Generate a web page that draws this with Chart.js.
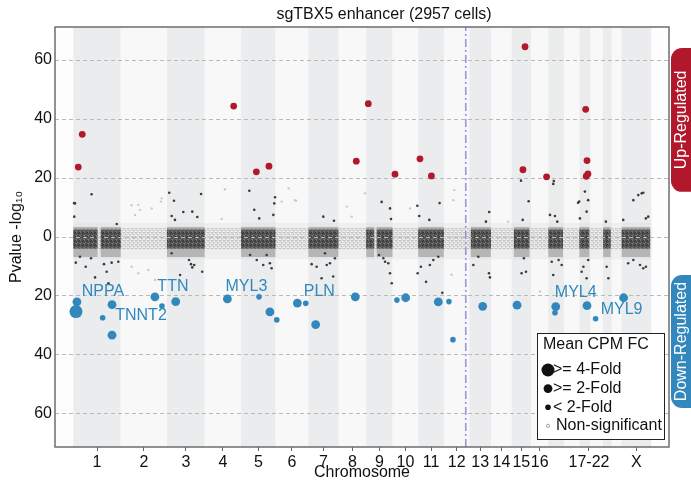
<!DOCTYPE html>
<html><head><meta charset="utf-8">
<script src="https://cdn.jsdelivr.net/npm/chart.js@4.4.1/dist/chart.umd.min.js"></script>
<style>html,body{margin:0;padding:0;background:#fff}#wrap{width:691px;height:481px}</style>
</head><body><div id="wrap"><canvas id="c" width="691" height="481"></canvas></div>
<script>
// ---------- DATA ----------
const chartTitle = 'sgTBX5 enhancer (2957 cells)';
const chromNames = ['1','2','3','4','5','6','7','8','9','10','11','12','13','14','15','16','17','18','19','20','21','22','X'];
const chromLengthsMb = [248.96,242.19,198.30,190.21,181.54,170.81,159.35,145.14,138.39,133.80,135.09,133.28,114.36,107.04,101.99,90.34,83.26,80.37,58.62,64.44,46.71,50.82,156.04];
const xTickLabels = ['1','2','3','4','5','6','7','8','9','10','11','12','13','14','15','16','17-22','X'];
const yTickValues = [-60,-40,-20,0,20,40,60];
const tbx5Chrom = '12';
const tbx5PosInChromMb = 114.35;

// significant up-regulated genes (genome position Mb, -log10 p)
const upPosMb  = [26, 47, 841, 960, 1026, 1484, 1547, 1687, 1818, 1878, 2369, 2358, 2482, 2687, 2694, 2699, 2690];
const upLogP   = [23.7, 34.8, 44.4, 22.1, 24.0, 25.7, 45.2, 21.3, 26.5, 20.7, 64.5, 22.8, 20.4, 43.3, 25.9, 21.4, 20.6];

// significant down-regulated genes
const downPosMb = [14, 19, 154, 203, 203, 428, 465, 537, 808, 974, 1031, 1067, 1175, 1219, 1271, 1479, 1697, 1743, 1914, 1970, 1991, 2147, 2327, 2530, 2526, 2694, 2739, 2886];
const downLogP  = [25.3, 22.0, 27.4, 22.9, 33.3, 20.3, 23.4, 21.9, 21.0, 20.3, 25.4, 28.1, 22.4, 22.5, 29.7, 20.3, 21.4, 20.6, 22.0, 21.9, 34.8, 23.5, 23.1, 23.6, 25.7, 23.3, 27.7, 20.6];
const downFold  = ['>=4','>=2','<2','>=2','>=2','>=2','<2','>=2','>=2','<2','>=2','<2','>=2','<2','>=2','>=2','<2','>=2','>=2','<2','<2','>=2','>=2','>=2','<2','>=2','<2','>=2'];

// labelled genes: name and index of the down-regulated point they belong to
const geneNames = ['NPPA','TNNT2','TTN','MYL3','PLN','MYL4','MYL9'];
const genePoint = [1, 3, 5, 8, 12, 23, 26];

// dense gene clouds (odd chromosomes, dark) as genome ranges in Mb
const denseDarkRangesMb = [[0,127],[144,249],[491,689],[880,1060],[1233,1390],[1536,1578],[1591,1674],[1809,1943],[2085,2190],[2311,2392],[2491,2568],[2654,2706],[2779,2818],[2876,3025]];
const denseDarkCore = [-3.9, 2.5];
const denseDarkHalo = [-6.8, 3.4];
const denseLightCore = [-4.2, 3.0];
const denseLightHalo = [-7.5, 4.8];

// scattered individual genes (Mb, signed -log10 p)
const darkScatterMb = [96,9,5,4,228,65,114,13,161,175,201,236,184,93,35,
  503,670,528,577,516,533,650,624,607,617,624,634,560,676,516,
  923,1058,949,975,1054,1049,927,962,996,1031,1040,1014,
  1367,1311,1302,1363,1250,1276,1329,1346,1372,1320,
  1617,1661,1666,1603,1626,1652,1635,1670,1661,
  1804,1921,1814,1867,1806,1850,1823,1870,1888,1914,1935,
  2181,2164,2098,2124,2180,2185,
  2348,2388,2357,2363,2351,2374,
  2520,2517,2526,2500,2538,2517,2561,2509,2545,
  2683,2700,2692,2657,2653,2647,2692,2675,2666,2700,
  2793,2806,2797,
  2937,2963,2989,2981,3003,3015,2884,2972,2989,3003,2937,2910];
const darkScatterVal = [14.5,11.4,6.9,11.5,4.4,-10.1,-13.7,-8.7,-9.2,-11.8,-8.7,-8.4,-15.7,-7.2,-6.7,
  15.0,14.6,12.3,8.5,7.1,5.8,6.8,8.6,-7.8,-9.2,-10.3,-9.5,-12.9,-11.8,-5.5,
  15.7,13.5,9.2,6.3,11.4,7.5,-6.1,-7.8,-9.5,-8.9,-10.6,-6.1,
  5.5,6.9,-14.0,-13.4,-9.2,-10.1,-9.5,-8.9,-7.2,-5.5,
  11.9,9.7,6.1,-6.1,-7.2,-8.9,-8.4,-15.7,-12.3,
  10.6,11.5,7.1,5.8,-12.3,-15.2,-10.1,-9.5,-7.8,-6.7,-18.9,
  8.5,5.2,-9.5,-6.7,-12.3,-13.7,
  19.1,12.1,5.8,-7.2,-12.3,-11.8,
  19.0,18.0,7.1,7.5,5.2,-12.9,-9.5,-8.4,-7.8,
  15.4,12.5,8.6,6.3,12.0,11.6,-14.0,-10.1,-11.8,-7.8,
  5.2,-14.0,-10.1,
  12.5,14.2,15.0,14.8,6.3,6.9,5.8,-9.5,-10.6,-10.1,-7.8,-8.9];
const lightScatterMb  = [306,350,324,464,460,411,341,306,341,393,428,778,795,1093,1129,1162,1168,1434,1460,1530,1766,1993,1998,1984,2281,2447];
const lightScatterVal = [10.8,9.2,7.5,13.1,12.0,9.7,10.9,-10.1,-12.3,-11.2,-14.6,6.1,16.2,12.0,16.5,12.5,12.3,10.3,6.9,14.8,9.7,12.5,15.9,-12.8,5.2,-18.5];

// legend & side labels
const legendTitle = 'Mean CPM FC';
const legendLabels = ['>= 4-Fold','>= 2-Fold','< 2-Fold','Non-significant'];
const sideLabels = ['Up-Regulated','Down-Regulated'];
const sideRanges = [[64.1,15.3],[-12.9,-58.0]];

// ---------- DERIVED ----------
const chromStarts = [];
chromLengthsMb.reduce((acc,l)=>{chromStarts.push(acc);return acc+l;},0);
const genomeEnd = chromStarts[chromStarts.length-1] + chromLengthsMb[chromLengthsMb.length-1];
const chromCenters = chromStarts.map((s,i)=>s+chromLengthsMb[i]/2);
const groupCenter = chromCenters.slice(16,22).reduce((a,b)=>a+b,0)/6;
const xTickValues = chromCenters.slice(0,16).concat([groupCenter, chromCenters[22]]);
const tbx5Pos = chromStarts[chromNames.indexOf(tbx5Chrom)] + tbx5PosInChromMb;

// ---------- STYLE ----------
const FONT = "'Liberation Sans', Arial, Helvetica, sans-serif";
const RED = '#b2182b', BLUE = '#3288bd';
const foldRadius = {'>=4':6.5,'>=2':4.4,'<2':2.8};
const X_MIN = -96, X_MAX = 3124, Y_MIN = -71.2, Y_MAX = 71.2;
const labelOffsets = [[26,-10],[29,11],[18,-10],[19,-12],[22,-11],[20,-14],[26,-9]];

Chart.defaults.font.family = FONT;
Chart.defaults.color = '#111';

// speckle texture (fixed tile) to mimic a dense cloud of tiny dots
function makeTile(base, shades){
  const t=document.createElement('canvas'); t.width=4; t.height=4;
  const c=t.getContext('2d'); c.fillStyle=base; c.fillRect(0,0,4,4);
  const cells=[[0,0],[2,1],[1,2],[3,3],[3,0],[0,3]];
  cells.forEach((p,i)=>{c.fillStyle=shades[i%shades.length]; c.fillRect(p[0],p[1],1,1);});
  return t;
}

function roundRect(ctx,x,y,w,h,r){
  ctx.beginPath();
  ctx.moveTo(x+r,y); ctx.lineTo(x+w-r,y); ctx.arcTo(x+w,y,x+w,y+r,r);
  ctx.lineTo(x+w,y+h-r); ctx.arcTo(x+w,y+h,x+w-r,y+h,r);
  ctx.lineTo(x+r,y+h); ctx.arcTo(x,y+h,x,y+h-r,r);
  ctx.lineTo(x,y+r); ctx.arcTo(x,y,x+r,y,r); ctx.closePath();
}

const bgPlugin = {
  id:'bg',
  beforeDraw(chart){
    const {ctx, chartArea:a, scales:{x,y}} = chart;
    ctx.save();
    ctx.fillStyle='#fdfdfd'; ctx.fillRect(a.left,a.top,a.width,a.height);
    chromLengthsMb.forEach((len,i)=>{
      const x0=x.getPixelForValue(chromStarts[i]), x1=x.getPixelForValue(chromStarts[i]+len);
      ctx.fillStyle = i%2===0 ? '#ebeced' : '#f8f8f8';
      ctx.fillRect(x0,a.top,x1-x0,a.height);
    });
    const darkPat = ctx.createPattern(makeTile('#4e4e4e',['#6e6e6e','#333333','#777777']),'repeat');
    const lightPat = ctx.createPattern(makeTile('rgba(205,205,205,0.55)',['rgba(190,190,190,0.9)','rgba(255,255,255,0.6)']),'repeat');
    const band=(x0v,x1v,r,col)=>{
      const X0=x.getPixelForValue(x0v), X1=x.getPixelForValue(x1v);
      const Y0=y.getPixelForValue(r[1]), Y1=y.getPixelForValue(r[0]);
      ctx.fillStyle=col; ctx.fillRect(X0,Y0,X1-X0,Y1-Y0);
    };
    band(0,genomeEnd,denseLightHalo,'rgba(210,210,210,0.22)');
    band(0,genomeEnd,denseLightCore,lightPat);
    denseDarkRangesMb.forEach(r=>band(r[0],r[1],denseDarkHalo,'rgba(70,70,70,0.3)'));
    denseDarkRangesMb.forEach(r=>band(r[0],r[1],denseDarkCore,darkPat));
    ctx.restore();
  }
};

const overlayPlugin = {
  id:'overlay',
  afterDatasetsDraw(chart){
    const {ctx, chartArea:a} = chart;
    ctx.save();
    const meta = chart.getDatasetMeta(4);
    ctx.font = '16px '+FONT; ctx.fillStyle = BLUE; ctx.textAlign='center'; ctx.textBaseline='middle';
    geneNames.forEach((g,i)=>{
      const p = meta.data[genePoint[i]];
      ctx.fillText(g, p.x+labelOffsets[i][0], p.y+labelOffsets[i][1]);
    });
    ctx.strokeStyle='#6e6e6e'; ctx.lineWidth=1.5;
    ctx.strokeRect(a.left,a.top,a.width,a.height);
    const w=127,h=106, x0=a.right-5-w, y0=a.bottom-8-h;
    ctx.fillStyle='#fff'; ctx.fillRect(x0,y0,w,h);
    ctx.strokeStyle='#222'; ctx.lineWidth=1; ctx.strokeRect(x0+0.5,y0+0.5,w,h);
    ctx.fillStyle='#111'; ctx.textAlign='left'; ctx.font='16px '+FONT;
    ctx.fillText(legendTitle, x0+6, y0+12);
    const radii=[foldRadius['>=4'],foldRadius['>=2'],foldRadius['<2'],1.6];
    const tx=[16,16,16,19];
    legendLabels.forEach((lab,i)=>{
      const cy=y0+37+i*18.6, cx=x0+11;
      ctx.beginPath(); ctx.arc(cx,cy,radii[i],0,Math.PI*2);
      if(i<3){ctx.fillStyle='#111';ctx.fill();}
      else {ctx.strokeStyle='#888';ctx.lineWidth=0.8;ctx.stroke();}
      ctx.fillStyle='#111'; ctx.fillText(lab, x0+tx[i], cy);
    });
    ctx.restore();
  },
  afterDraw(chart){
    const {ctx, chartArea:a, scales:{y}} = chart;
    ctx.save();
    ctx.font='16px '+FONT; ctx.fillStyle='#111'; ctx.textAlign='center'; ctx.textBaseline='middle';
    ctx.fillText(chartTitle,(a.left+a.right)/2+22,15);
    const cols=[RED,BLUE];
    sideLabels.forEach((lab,i)=>{
      const y0=y.getPixelForValue(sideRanges[i][0]), y1=y.getPixelForValue(sideRanges[i][1]);
      ctx.fillStyle=cols[i];
      roundRect(ctx,a.right+2,y0,34,y1-y0,11); ctx.fill();
      ctx.save(); ctx.translate(a.right+13,(y0+y1)/2); ctx.rotate(-Math.PI/2);
      ctx.fillStyle='#fff'; ctx.font='16px '+FONT; ctx.textAlign='center'; ctx.textBaseline='middle';
      ctx.fillText(lab,0,0); ctx.restore();
    });
    ctx.restore();
  }
};

const pts = (xs,ys,sign=1)=>xs.map((v,i)=>({x:v,y:sign*ys[i]}));

new Chart(document.getElementById('c'),{
  type:'scatter',
  data:{datasets:[
    {label:'light', data:pts(lightScatterMb,lightScatterVal), backgroundColor:'#c9c9c9', pointRadius:1.2, borderWidth:0},
    {label:'dark', data:pts(darkScatterMb,darkScatterVal), backgroundColor:'#3c3c3c', pointRadius:1.3, borderWidth:0},
    {label:'tbx5', type:'line', data:[{x:tbx5Pos,y:Y_MIN},{x:tbx5Pos,y:Y_MAX}], borderColor:'#9d90d6', borderWidth:1.6, borderDash:[8,3,2,3], pointRadius:0, fill:false},
    {label:'up', data:pts(upPosMb,upLogP), backgroundColor:RED, pointRadius:3.4, borderWidth:0},
    {label:'down', data:pts(downPosMb,downLogP,-1), backgroundColor:BLUE, pointRadius:downFold.map(f=>foldRadius[f]), borderWidth:0}
  ]},
  options:{
    responsive:false, animation:false, devicePixelRatio:1,
    layout:{padding:{top:27,right:22,left:0,bottom:0}},
    plugins:{legend:{display:false}, tooltip:{enabled:false}, title:{display:false}},
    events:[],
    scales:{
      x:{type:'linear', min:X_MIN, max:X_MAX,
        afterBuildTicks:s=>{s.ticks=xTickValues.map(v=>({value:v}));},
        afterFit:s=>{s.height=34;},
        ticks:{autoSkip:false, maxRotation:0, padding:2, font:{size:16}, color:'#111',
          callback:(v,i)=>xTickLabels[i]},
        grid:{drawOnChartArea:false, drawTicks:true, tickLength:4, color:'#666'},
        border:{display:false},
        title:{display:true, text:'Chromosome', font:{size:16, lineHeight:1}, padding:{top:0,bottom:0}, color:'#111'}
      },
      y:{type:'linear', min:Y_MIN, max:Y_MAX,
        afterBuildTicks:s=>{s.ticks=yTickValues.map(v=>({value:v}));},
        afterFit:s=>{s.width=55;},
        ticks:{padding:3, font:{size:16}, color:'#111', callback:v=>String(Math.abs(v))},
        grid:{drawOnChartArea:true, drawTicks:false, color:'#b9b9b9', lineWidth:1},
        border:{display:false, dash:[4,3]},
        title:{display:true, text:'Pvalue -log\u2081\u2080', font:{size:16}, padding:{top:7,bottom:0}, color:'#111'}
      }
    }
  },
  plugins:[bgPlugin, overlayPlugin]
});
</script></body></html>
